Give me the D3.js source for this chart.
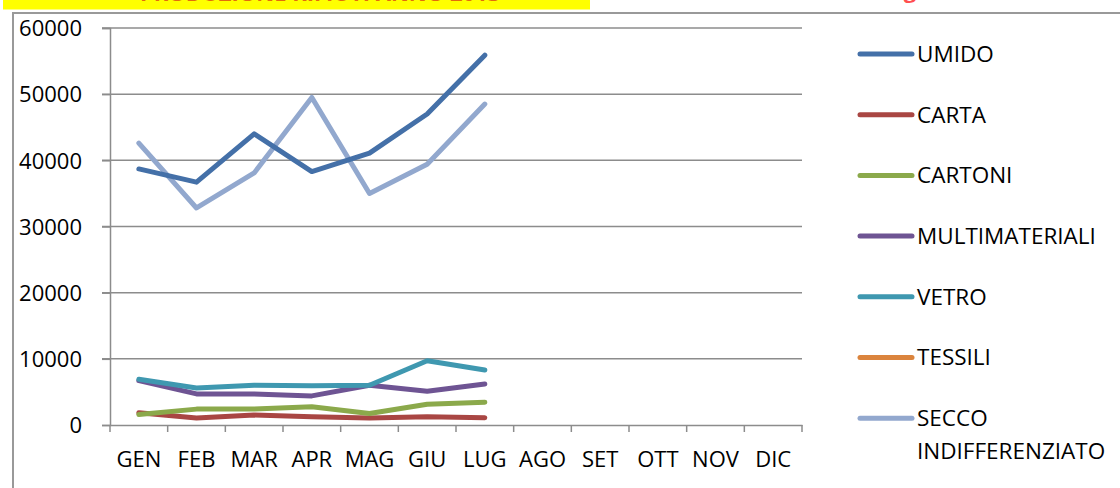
<!DOCTYPE html>
<html><head><meta charset="utf-8">
<script src="https://cdn.jsdelivr.net/npm/d3@7"></script>
<style>body{margin:0;background:#fff;}svg{display:block;font-family:"Open Sans","Noto Sans",sans-serif;}</style>
</head><body><svg id="c" width="1120" height="488"></svg>
<script>
const months = ["GEN","FEB","MAR","APR","MAG","GIU","LUG","AGO","SET","OTT","NOV","DIC"];
const yTicks = [0,10000,20000,30000,40000,50000,60000];
const seriesNames = ["UMIDO","CARTA","CARTONI","MULTIMATERIALI","VETRO","TESSILI","SECCO INDIFFERENZIATO"];
const seriesColors = ["#4470A8","#A94643","#8BA94B","#6E5493","#3F98B0","#DB843D","#92A8CE"];
const umido = [38700,36700,44000,38300,41100,47000,55900];
const carta = [1850,1050,1500,1250,1050,1250,1100];
const cartoni = [1600,2400,2400,2750,1750,3150,3450];
const multimateriali = [6700,4700,4700,4400,6000,5100,6200];
const vetro = [6900,5600,6000,5950,6000,9700,8300];
const tessili = [];
const secco = [42600,32800,38100,49500,35000,39400,48500];
const seriesValues = [umido,carta,cartoni,multimateriali,vetro,tessili,secco];

const svg = d3.select("#c");
// banner and frame
svg.append("rect").attr("x",3).attr("y",0).attr("width",587).attr("height",9.5).attr("fill","#FFFF00");
svg.append("text").attr("x",140).attr("y",0.5).attr("fill","#E36C0A").attr("font-size",22).attr("font-weight","bold").text("PRODUZIONE RIFIUTI ANNO 2013");
svg.append("text").attr("x",890).attr("y",-2).attr("fill","#FF5050").attr("font-size",22).attr("font-weight","bold").text("kg / mese");
svg.append("path").attr("d","M13,488V13H1120").attr("fill","none").attr("stroke","#999").attr("stroke-width",2);

const x = d3.scaleBand().domain(months).range([110,802]);
const y = d3.scaleLinear().domain([0,60000]).range([425,28]);

// gridlines
svg.append("g").selectAll("line").data(yTicks.filter(d=>d>0)).join("line")
  .attr("x1",102).attr("x2",802).attr("y1",d=>y(d)).attr("y2",d=>y(d))
  .attr("stroke","#8c8c8c").attr("stroke-width",1.5);

// y axis
const ya = svg.append("g").attr("transform","translate(110,0)")
  .call(d3.axisLeft(y).tickValues(yTicks).tickSize(8).tickPadding(20).tickFormat(d3.format("d")));
ya.select(".domain").attr("stroke","#8c8c8c").attr("stroke-width",1.5);
ya.selectAll(".tick line").attr("stroke","#8c8c8c").attr("stroke-width",1.5);
ya.selectAll("text").attr("font-size",22).attr("fill","#000").attr("font-family","Open Sans").attr("dy","0.35em");

// x axis
const xa = svg.append("g").attr("transform","translate(0,425)")
  .call(d3.axisBottom(x).tickSize(0).tickPadding(26));
xa.select(".domain").attr("stroke","#8c8c8c").attr("stroke-width",1.5);
xa.selectAll("text").attr("font-size",22).attr("fill","#000").attr("font-family","Open Sans");
const bounds = months.map(m=>x(m)).concat([802]);
xa.append("g").selectAll("line").data(bounds).join("line")
  .attr("x1",d=>d).attr("x2",d=>d).attr("y1",0).attr("y2",7)
  .attr("stroke","#8c8c8c").attr("stroke-width",1.5);

// lines
const line = d3.line().defined(d=>d!=null).x((d,i)=>x(months[i])+x.bandwidth()/2).y(d=>y(d));
const order = [6,0,1,2,3,4,5];
svg.append("g").selectAll("path").data(order).join("path")
  .attr("d",i=>line(seriesValues[i])||null)
  .attr("fill","none").attr("stroke",i=>seriesColors[i]).attr("stroke-width",5)
  .attr("stroke-linecap","round").attr("stroke-linejoin","round");

// legend
const lg = svg.append("g");
seriesNames.forEach((n,i)=>{
  const ly = 54 + i*60.7;
  lg.append("line").attr("x1",860).attr("x2",912).attr("y1",ly).attr("y2",ly)
    .attr("stroke",seriesColors[i]).attr("stroke-width",5).attr("stroke-linecap","round");
  const parts = n==="SECCO INDIFFERENZIATO" ? ["SECCO","INDIFFERENZIATO"] : [n];
  parts.forEach((p,j)=>{
    lg.append("text").attr("x",917).attr("y",ly+j*33).attr("dy","0.35em")
      .attr("font-size",22.5).attr("fill","#000").text(p);
  });
});
</script></body></html>
